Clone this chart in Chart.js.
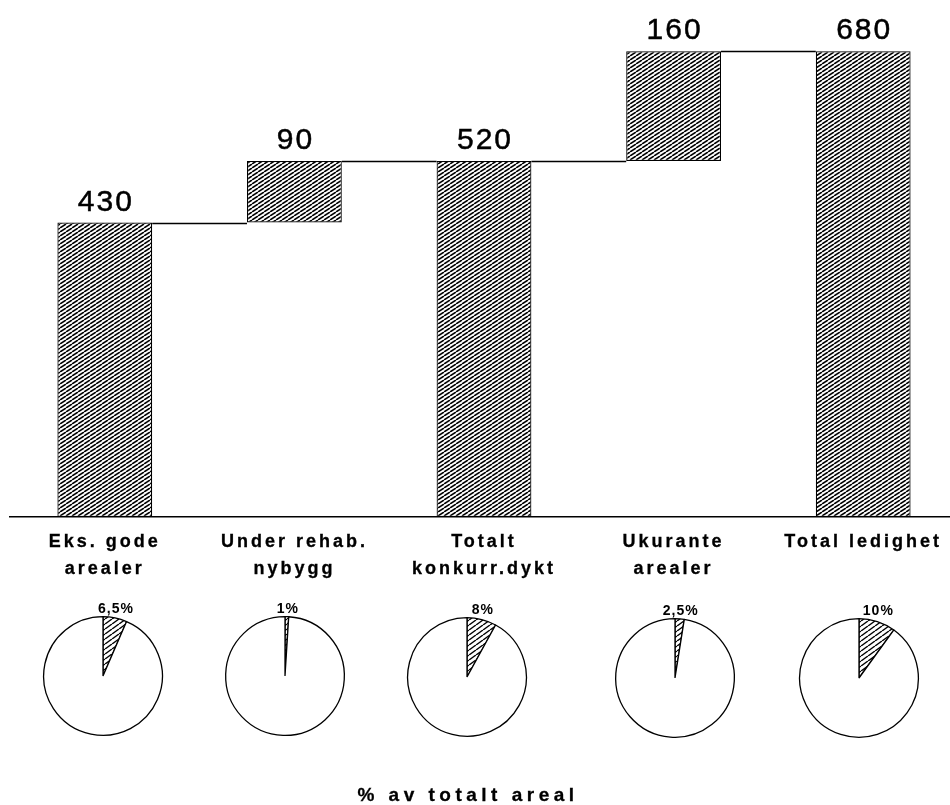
<!DOCTYPE html>
<html>
<head>
<meta charset="utf-8">
<title>Ledighet</title>
<script src="https://cdn.jsdelivr.net/npm/chart.js@4.4.1/dist/chart.umd.min.js"></script>
<style>
  html, body { margin: 0; padding: 0; background: #fff; overflow: hidden; }
  #wrap { position: relative; width: 950px; height: 805px; overflow: hidden; }
  #main { position: absolute; left: 0; top: 0; }
  .pie { position: absolute; }
</style>
</head>
<body>
<div id="wrap">
  <canvas id="main" width="960" height="805"></canvas>
  <canvas class="pie" id="pie0" width="150" height="145" style="left:28px;top:594px"></canvas>
  <canvas class="pie" id="pie1" width="150" height="145" style="left:210px;top:594px"></canvas>
  <canvas class="pie" id="pie2" width="150" height="145" style="left:392px;top:595px"></canvas>
  <canvas class="pie" id="pie3" width="150" height="145" style="left:600px;top:596px"></canvas>
  <canvas class="pie" id="pie4" width="150" height="145" style="left:784px;top:596px"></canvas>
</div>
<script>
// chart data
const categories = [['Eks. gode', 'arealer'], ['Under rehab.', 'nybygg'], ['Totalt', 'konkurr.dykt'], ['Ukurante', 'arealer'], ['Total ledighet']];
const barStart = [0, 430, 0, 520, 0];
const barEnd = [430, 520, 520, 680, 680];
const barValues = [430, 90, 520, 160, 680];
const sharePercent = [6.5, 1, 8, 2.5, 10];
const shareLabels = ['6,5%', '1%', '8%', '2,5%', '10%'];
const footTitle = '% av totalt areal';

const FONT = '"Liberation Sans", Arial, Helvetica, sans-serif';

// diagonal hatching like the printed original
const makeHatch = (w, h, lw) => {
    const c = document.createElement('canvas');
    c.width = w;
    c.height = h;
    const g = c.getContext('2d');
    g.fillStyle = '#fff';
    g.fillRect(0, 0, w, h);
    g.strokeStyle = '#000';
    g.lineWidth = lw;
    [-w, 0, w].forEach(dx => {
        g.beginPath();
        g.moveTo(dx, h);
        g.lineTo(dx + w, 0);
        g.stroke();
    });
    return g.createPattern(c, 'repeat');
};

const barHatch = makeHatch(6, 4, 1.6);
const pieHatch = makeHatch(7, 5, 1.4);

const waterfallPlugin = {
    id: 'waterfall',
    beforeDraw(chart) {
        chart.ctx.letterSpacing = '3px';
    },
    afterDatasetsDraw(chart) {
        const ctx = chart.ctx;
        const yScale = chart.scales.y;
        const bars = chart.getDatasetMeta(0).data;
        ctx.save();
        // connector lines between the steps
        ctx.strokeStyle = '#000';
        ctx.lineWidth = 1.5;
        for (let i = 0; i < bars.length - 1; i++) {
            const lvl = Math.round(yScale.getPixelForValue(barEnd[i])) + 0.5;
            ctx.beginPath();
            ctx.moveTo(bars[i].x + bars[i].width / 2, lvl);
            ctx.lineTo(bars[i + 1].x - bars[i + 1].width / 2, lvl);
            ctx.stroke();
        }
        // value labels over the bars
        ctx.fillStyle = '#000';
        ctx.strokeStyle = '#000';
        ctx.lineWidth = 0.5;
        ctx.font = '30px ' + FONT;
        ctx.letterSpacing = '2px';
        ctx.textAlign = 'center';
        ctx.textBaseline = 'alphabetic';
        bars.forEach((bar, i) => {
            const top = Math.min(bar.y, bar.base);
            ctx.fillText(String(barValues[i]), bar.x + 1, top - 12);
            ctx.strokeText(String(barValues[i]), bar.x + 1, top - 12);
        });
        ctx.restore();
    },
    afterDraw(chart) {
        const ctx = chart.ctx;
        ctx.save();
        ctx.fillStyle = '#000';
        ctx.strokeStyle = '#000';
        ctx.lineWidth = 0.3;
        ctx.font = 'bold 19px ' + FONT;
        ctx.letterSpacing = '4.5px';
        ctx.textAlign = 'center';
        ctx.textBaseline = 'alphabetic';
        ctx.fillText(footTitle, 468, 801);
        ctx.strokeText(footTitle, 468, 801);
        ctx.restore();
    }
};

new Chart(document.getElementById('main'), {
    type: 'bar',
    data: {
        labels: categories,
        datasets: [{
            data: barStart.map((s, i) => [s, barEnd[i]]),
            backgroundColor: barHatch,
            borderColor: '#000',
            borderWidth: 1.2,
            borderSkipped: false,
            categoryPercentage: 1,
            barPercentage: 0.5
        }]
    },
    options: {
        responsive: false,
        animation: false,
        events: [],
        layout: { padding: { left: 10, right: 2, top: 0, bottom: 210 } },
        plugins: {
            legend: { display: false },
            tooltip: { enabled: false }
        },
        scales: {
            x: {
                grid: { display: false, drawTicks: false },
                border: { display: true, color: '#000', width: 1.5 },
                ticks: {
                    color: '#000',
                    textStrokeColor: '#000',
                    textStrokeWidth: 0.3,
                    padding: 12,
                    autoSkip: false,
                    maxRotation: 0,
                    font: { family: FONT, size: 18, weight: 'bold', lineHeight: 1.5 }
                }
            },
            y: { display: false, min: 0, max: 755 }
        }
    },
    plugins: [waterfallPlugin]
});

// small pies: share of total area
const pieLabelPlugin = {
    id: 'pieLabel',
    afterDraw(chart) {
        const arc = chart.getDatasetMeta(0).data[0];
        const mid = (arc.startAngle + arc.endAngle) / 2;
        const ctx = chart.ctx;
        const x = arc.x + arc.outerRadius * Math.cos(mid) + 1;
        const y = arc.y - arc.outerRadius - 4;
        ctx.save();
        ctx.fillStyle = '#000';
        ctx.font = 'bold 14px ' + FONT;
        ctx.letterSpacing = '1px';
        ctx.textAlign = 'center';
        ctx.textBaseline = 'alphabetic';
        ctx.fillText(chart.options.shareText, x, y);
        ctx.restore();
    }
};

sharePercent.forEach((p, i) => {
    new Chart(document.getElementById('pie' + i), {
        type: 'pie',
        data: {
            labels: ['andel', 'resten'],
            datasets: [{
                data: [p, 100 - p],
                backgroundColor: [pieHatch, '#fff'],
                borderColor: '#000',
                borderWidth: 1.3
            }]
        },
        options: {
            responsive: false,
            animation: false,
            events: [],
            shareText: shareLabels[i],
            layout: { padding: { top: 22, bottom: 3, left: 15, right: 15 } },
            plugins: {
                legend: { display: false },
                tooltip: { enabled: false }
            }
        },
        plugins: [pieLabelPlugin]
    });
});
</script>
</body>
</html>
